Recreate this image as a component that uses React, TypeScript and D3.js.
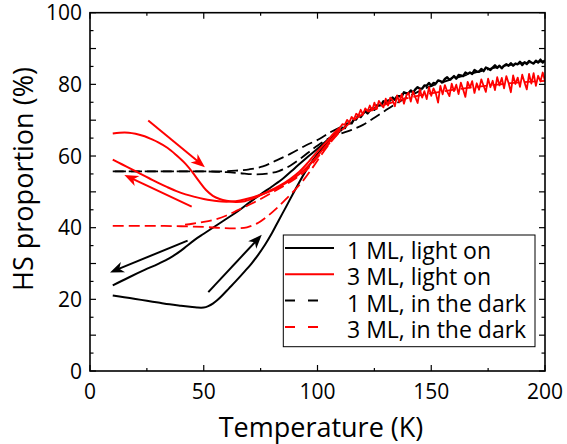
import * as d3 from "d3";

type Pt = [number, number];

const W = 567;
const H = 444;
const FONT = "'Open Sans', 'Noto Sans', sans-serif";
const RED = "#ff0000";

// 1 ML, light on (black solid)
const bkLightHeat: Pt[] = [
  [10, 21.1], [15, 20.6], [20, 20.1], [25, 19.6], [30, 19.1], [35, 18.6], [40, 18.2], [44, 17.9],
  [47, 17.7], [50, 17.7], [52, 18.1], [54, 18.8], [56, 19.8], [58, 21.0], [61, 23.0], [64, 25.0],
  [68, 27.8], [71, 30.0], [74, 32.5], [77, 35.3], [80, 38.5], [83, 42.1], [86, 45.6], [89, 49.2],
  [92, 52.7], [95, 56.0], [98, 58.9], [101, 61.3], [104, 63.4], [107, 65.3], [110, 67.0],
];
const bkLightCool: Pt[] = [
  [110, 67.4], [105, 64.8], [100, 62.0], [95, 59.4], [90, 56.6], [85, 53.8], [80, 51.5], [75, 49.3],
  [70, 47.0], [65, 44.6], [60, 42.5], [55, 40.4], [50, 38.3], [46, 36.6], [40, 33.6], [35, 31.5],
  [30, 29.9], [24, 28.2], [17, 26.1], [10, 23.9],
];
const bkLightHigh: Pt[] = [
  [110, 67.0], [111, 67.9], [112, 67.8], [113, 69.0], [114, 69.1], [115, 69.1], [116, 70.2], [117, 70.2],
  [118, 71.4], [119, 70.9], [120, 71.8], [121, 72.5], [122, 71.9], [123, 72.7], [124, 73.3], [125, 72.9],
  [126, 74.1], [127, 74.1], [128, 74.2], [129, 75.3], [130, 74.7], [131, 75.5], [132, 75.5], [133, 76.3],
  [134, 75.7], [135, 76.7], [136, 76.7], [137, 76.6], [138, 77.8], [139, 77.5], [140, 77.5], [141, 78.3],
  [142, 77.7], [143, 78.6], [144, 79.2], [145, 78.8], [146, 78.8], [147, 79.7], [148, 79.6], [149, 80.4],
  [150, 79.6], [151, 80.4], [152, 80.2], [153, 81.1], [154, 80.9], [155, 80.6], [156, 81.5], [157, 82.0],
  [158, 81.3], [159, 81.7], [160, 82.3], [161, 81.6], [162, 82.6], [163, 82.5], [164, 82.3], [165, 83.3],
  [166, 82.9], [167, 83.3], [168, 82.9], [169, 84.0], [170, 83.6], [171, 83.5], [172, 84.3], [173, 83.7],
  [174, 84.7], [175, 84.4], [176, 84.0], [177, 84.7], [178, 85.3], [179, 84.6], [180, 85.2], [181, 84.5],
  [182, 85.2], [183, 85.6], [184, 85.2], [185, 85.9], [186, 85.2], [187, 85.8], [188, 85.6], [189, 86.3],
  [190, 85.4], [191, 86.2], [192, 85.7], [193, 86.5], [194, 86.1], [195, 85.8], [196, 86.6], [197, 86.1],
  [198, 86.9], [199, 86.1], [200, 86.7],
];

// 3 ML, light on (red solid)
const rdLightHeat: Pt[] = [
  [10, 66.3], [13, 66.5], [17, 66.5], [20, 66.2], [24, 65.5], [27, 64.7], [30, 63.8], [34, 62.3],
  [38, 60.2], [42, 57.8], [45, 55.5], [48, 52.9], [51, 50.5], [54, 48.9], [57, 48.0], [60, 47.5],
  [64, 47.2], [68, 47.4], [73, 48.5], [78, 50.0], [83, 51.6], [88, 53.6], [92, 55.6], [96, 58.3],
  [100, 61.3], [104, 64.0], [107, 66.2], [110, 68.0],
];
const rdLightCool: Pt[] = [
  [110, 67.6], [106, 64.6], [102, 61.6], [98, 58.6], [94, 56.0], [90, 54.0], [86, 52.4], [82, 51.0],
  [78, 49.9], [74, 49.0], [70, 48.2], [66, 47.6], [62, 47.3], [58, 47.3], [54, 47.6], [50, 48.0],
  [46, 48.6], [42, 49.3], [38, 50.2], [34, 51.3], [30, 52.5], [26, 53.8], [22, 55.1], [18, 56.4],
  [14, 57.7], [10, 59.0],
];
const rdLightHigh: Pt[] = [
  [110, 68.0], [111, 68.9], [112, 68.7], [113, 70.1], [114, 69.4], [115, 70.9], [116, 70.2], [117, 71.8],
  [118, 71.3], [119, 72.9], [120, 71.6], [121, 73.3], [122, 72.5], [123, 74.1], [124, 72.7], [125, 74.9],
  [126, 73.1], [127, 75.4], [128, 74.3], [129, 73.6], [130, 76.0], [131, 74.1], [132, 76.3], [133, 75.6],
  [134, 73.9], [135, 76.9], [136, 75.0], [137, 77.3], [138, 74.6], [139, 76.8], [140, 77.7], [141, 75.2],
  [142, 78.0], [143, 76.4], [144, 74.8], [145, 78.6], [146, 76.3], [147, 78.1], [148, 75.9], [149, 79.2],
  [150, 76.8], [151, 78.9], [152, 77.5], [153, 74.9], [154, 79.6], [155, 77.2], [156, 79.8], [157, 78.0],
  [158, 76.7], [159, 80.2], [160, 78.1], [161, 79.9], [162, 77.3], [163, 80.5], [164, 78.6], [165, 76.5],
  [166, 80.7], [167, 79.1], [168, 80.9], [169, 77.6], [170, 80.3], [171, 78.5], [172, 81.4], [173, 79.6],
  [174, 77.9], [175, 81.6], [176, 79.2], [177, 81.0], [178, 78.4], [179, 82.0], [180, 79.7], [181, 81.8],
  [182, 78.9], [183, 82.3], [184, 80.4], [185, 77.8], [186, 82.5], [187, 80.1], [188, 81.9], [189, 79.3],
  [190, 82.7], [191, 80.5], [192, 78.6], [193, 82.9], [194, 80.2], [195, 83.1], [196, 79.6], [197, 82.4],
  [198, 80.8], [199, 83.3], [200, 80.9],
];

// 1 ML, in the dark (black dashed)
const bkDarkHeat: Pt[] = [
  [10, 55.7], [20, 55.7], [30, 55.7], [40, 55.7], [50, 55.7], [60, 55.5], [66, 55.2], [72, 54.9],
  [78, 55.1], [83, 55.8], [88, 57.3], [93, 59.5], [98, 62.0], [102, 63.8], [106, 65.2], [110, 66.2],
  [115, 67.3], [120, 68.7], [125, 70.7], [130, 72.8], [135, 74.8], [140, 76.6], [145, 78.2], [150, 79.5],
  [160, 81.6], [170, 83.4], [180, 84.9], [190, 85.9], [200, 86.4],
];
const bkDarkCool: Pt[] = [
  [110, 68.0], [105, 66.4], [101, 64.8], [95, 63.0], [88, 60.6], [82, 58.8], [76, 57.1], [70, 56.3],
  [64, 55.9], [58, 55.7], [50, 55.7], [30, 55.7], [10, 55.7],
];

// 3 ML, in the dark (red dashed)
const rdDarkHeat: Pt[] = [
  [10, 40.5], [20, 40.5], [30, 40.5], [40, 40.4], [50, 40.2], [58, 39.9], [64, 39.8], [69, 40.1],
  [74, 41.4], [78, 43.2], [82, 45.4], [86, 47.9], [90, 50.5], [94, 53.4], [98, 56.9], [102, 60.6],
  [106, 64.0], [110, 66.8], [115, 69.6], [120, 71.7], [130, 74.4], [140, 76.2], [150, 77.5], [160, 78.5],
  [170, 79.3], [180, 80.0], [190, 80.6], [200, 81.0],
];
const rdDarkCool: Pt[] = [
  [110, 67.2], [105, 63.4], [100, 59.6], [95, 56.0], [90, 53.6], [85, 51.6], [80, 49.8], [75, 48.0],
  [70, 46.4], [65, 44.9], [60, 43.4], [55, 42.3], [50, 41.6], [45, 41.1], [40, 40.7],
];

// sweep-direction arrows: tail -> head, in data units
const arrows: { color: string; from: Pt; to: Pt }[] = [
  { color: RED, from: [25.6, 69.9], to: [50.5, 56.9] },
  { color: RED, from: [44.7, 45.9], to: [15.1, 54.7] },
  { color: "#000", from: [42.9, 36.4], to: [8.8, 27.5] },
  { color: "#000", from: [52.0, 22.0], to: [75.5, 38.0] },
];

const xTicks = [0, 50, 100, 150, 200];
const xMinor = [25, 75, 125, 175];
const yTicks = [0, 20, 40, 60, 80, 100];
const yMid = [10, 30, 50, 70, 90];
const yMinor = [5, 15, 25, 35, 45, 55, 65, 75, 85, 95];

const legendItems = [
  { label: "1 ML, light on", color: "#000", dashed: false },
  { label: "3 ML, light on", color: RED, dashed: false },
  { label: "1 ML, in the dark", color: "#000", dashed: true },
  { label: "3 ML, in the dark", color: RED, dashed: true },
];

const L = 90, R = 545, T = 12.7, B = 371;

export default function App() {
  const x = d3.scaleLinear().domain([0, 200]).range([L, R]);
  const y = d3.scaleLinear().domain([0, 100]).range([B, T]);
  const smooth = d3.line<Pt>().x((d) => x(d[0])).y((d) => y(d[1])).curve(d3.curveCatmullRom.alpha(0.5));
  const raw = d3.line<Pt>().x((d) => x(d[0])).y((d) => y(d[1]));
  const DASH = "11 5";

  const arrowHead = (a: { from: Pt; to: Pt }) => {
    const x0 = x(a.from[0]), y0 = y(a.from[1]);
    const x1 = x(a.to[0]), y1 = y(a.to[1]);
    const ang = Math.atan2(y1 - y0, x1 - x0);
    const len = 14, half = 5.5, notch = 10;
    const p = (dx: number, dy: number) =>
      `${x1 + dx * Math.cos(ang) - dy * Math.sin(ang)},${y1 + dx * Math.sin(ang) + dy * Math.cos(ang)}`;
    return {
      line: { x1: x0, y1: y0, x2: x1 - notch * 0.8 * Math.cos(ang), y2: y1 - notch * 0.8 * Math.sin(ang) },
      head: [p(0, 0), p(-len, half), p(-notch, 0), p(-len, -half)].join(" "),
    };
  };

  return (
    <svg width={W} height={H} style={{ position: "absolute", left: 0, top: 0, background: "#fff" }} fontFamily={FONT}>
      <defs>
        <clipPath id="plot">
          <rect x={L} y={T} width={R - L} height={B - T} />
        </clipPath>
      </defs>

      <g clipPath="url(#plot)" fill="none" strokeLinejoin="round">
        {/* black: 1 ML */}
        <path d={smooth(bkDarkHeat) ?? ""} stroke="#000" strokeWidth={1.8} strokeDasharray={DASH} />
        <path d={smooth(bkDarkCool) ?? ""} stroke="#000" strokeWidth={1.8} strokeDasharray={DASH} />
        <path d={smooth(bkLightHeat) ?? ""} stroke="#000" strokeWidth={2} />
        <path d={smooth(bkLightCool) ?? ""} stroke="#000" strokeWidth={2} />
        <path d={raw(bkLightHigh) ?? ""} stroke="#000" strokeWidth={2.4} />
        {/* red: 3 ML */}
        <path d={smooth(rdDarkHeat) ?? ""} stroke={RED} strokeWidth={1.8} strokeDasharray={DASH} />
        <path d={smooth(rdDarkCool) ?? ""} stroke={RED} strokeWidth={1.8} strokeDasharray={DASH} />
        <path d={smooth(rdLightHeat) ?? ""} stroke={RED} strokeWidth={2} />
        <path d={smooth(rdLightCool) ?? ""} stroke={RED} strokeWidth={2} />
        <path d={raw(rdLightHigh) ?? ""} stroke={RED} strokeWidth={1.8} />
      </g>

      {/* sweep arrows */}
      {arrows.map((a, i) => {
        const g = arrowHead(a);
        return (
          <g key={i}>
            <line {...g.line} stroke={a.color} strokeWidth={2} />
            <polygon points={g.head} fill={a.color} />
          </g>
        );
      })}

      {/* frame and inward ticks on all four sides */}
      <rect x={L} y={T} width={R - L} height={B - T} fill="none" stroke="#000" strokeWidth={1.6} />
      {xTicks.concat(xMinor).map((t) => {
        const len = xTicks.includes(t) ? 6 : 3;
        return (
          <g key={`x${t}`} stroke="#000" strokeWidth={1.2}>
            <line x1={x(t)} x2={x(t)} y1={B} y2={B - len} />
            <line x1={x(t)} x2={x(t)} y1={T} y2={T + len} />
          </g>
        );
      })}
      {yTicks.concat(yMid, yMinor).map((t) => {
        const len = yMinor.includes(t) ? 3.5 : 6;
        return (
          <g key={`y${t}`} stroke="#000" strokeWidth={1.2}>
            <line x1={L} x2={L + len} y1={y(t)} y2={y(t)} />
            <line x1={R} x2={R - len} y1={y(t)} y2={y(t)} />
          </g>
        );
      })}

      {xTicks.map((t) => (
        <text key={`xl${t}`} x={x(t)} y={399} textAnchor="middle" fontSize={21} fill="#000">{t}</text>
      ))}
      {yTicks.map((t) => (
        <text key={`yl${t}`} x={82} y={y(t)} dy="0.36em" textAnchor="end" fontSize={21} fill="#000">{t}</text>
      ))}

      <text x={321} y={437} textAnchor="middle" fontSize={27} fill="#000">Temperature (K)</text>
      <text transform="translate(33,179) rotate(-90)" textAnchor="middle" fontSize={27} fill="#000">HS proportion (%)</text>

      {/* legend */}
      <rect x={283.3} y={235} width={251.7} height={111.7} fill="#fff" stroke="#000" strokeWidth={1} />
      {legendItems.map((it, i) => {
        const ly = 248 + i * 26.3;
        return (
          <g key={it.label}>
            <line x1={285} x2={it.dashed ? 322 : 334} y1={ly} y2={ly} stroke={it.color} strokeWidth={2}
              strokeDasharray={it.dashed ? "10 13" : undefined} />
            <text x={347} y={ly + 11} fontSize={23} fill="#000">{it.label}</text>
          </g>
        );
      })}
    </svg>
  );
}
